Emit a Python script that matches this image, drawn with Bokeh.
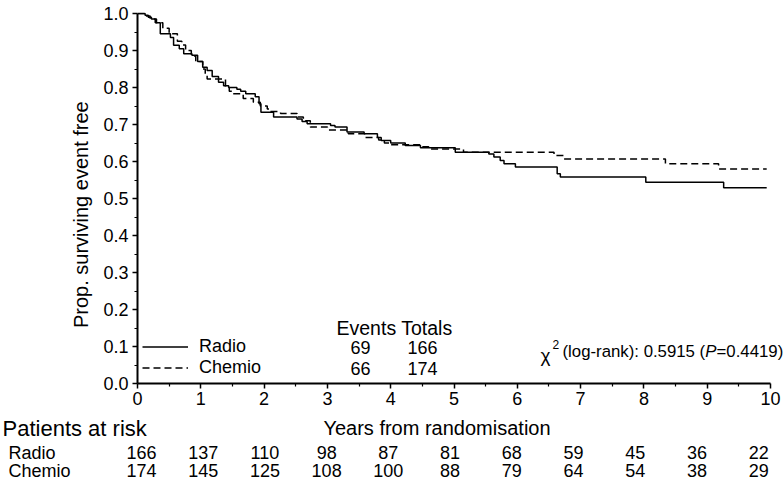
from bokeh.plotting import figure
from bokeh.layouts import column
from bokeh.models import (Range1d, Label, LabelSet, ColumnDataSource, Legend,
                          LegendItem, FixedTicker, PrintfTickFormatter)
from bokeh.core.properties import value
from bokeh.embed import file_html
from bokeh.resources import INLINE

FONT = "Liberation Sans"

# ---- data ----
radio_t = [0.00, 0.12, 0.17, 0.22, 0.28, 0.36, 0.52, 0.57, 0.66, 0.73, 0.86, 0.95,
           1.03, 1.10, 1.18, 1.28, 1.36, 1.44, 1.57, 1.63, 1.71, 1.86, 1.92, 1.95,
           2.15, 2.52, 2.60, 2.68, 3.05, 3.12, 3.31, 3.58, 3.79, 3.85, 4.00, 4.23,
           4.47, 5.02, 5.55, 5.63, 5.73, 5.79, 5.97, 6.63, 6.68, 8.03, 9.26, 9.94]
radio_s = [1.000, 0.995, 0.990, 0.985, 0.975, 0.945, 0.935, 0.914, 0.905, 0.891, 0.887, 0.870,
           0.855, 0.846, 0.830, 0.814, 0.805, 0.800, 0.795, 0.790, 0.783, 0.775, 0.756, 0.733,
           0.720, 0.715, 0.708, 0.702, 0.697, 0.693, 0.680, 0.675, 0.665, 0.657, 0.650, 0.643,
           0.637, 0.625, 0.620, 0.612, 0.603, 0.594, 0.585, 0.567, 0.558, 0.544, 0.529, 0.529]

chemio_t = [0.00, 0.12, 0.20, 0.30, 0.40, 0.50, 0.63, 0.70, 0.76, 0.85,
            0.92, 1.03, 1.07, 1.10, 1.39, 1.45, 1.50, 1.67, 1.83, 1.94,
            2.05, 2.10, 2.26, 2.52, 2.62, 2.73, 3.00, 3.33, 3.60, 3.81,
            3.90, 4.00, 4.47, 4.60, 5.15, 6.58, 6.73, 8.34, 9.18, 9.94]
chemio_s = [1.000, 0.993, 0.985, 0.975, 0.960, 0.945, 0.925, 0.915, 0.900, 0.885,
            0.870, 0.850, 0.835, 0.823, 0.800, 0.790, 0.783, 0.770, 0.760, 0.750,
            0.742, 0.735, 0.730, 0.720, 0.710, 0.693, 0.685, 0.675, 0.665, 0.658,
            0.650, 0.645, 0.640, 0.634, 0.625, 0.616, 0.607, 0.594, 0.580, 0.580]

groups = ["Radio", "Chemio"]
events = [69, 66]
totals = [166, 174]

chi2_value = 0.5915
p_value = 0.4419

x_ticks = [0, 1, 2, 3, 4, 5, 6, 7, 8, 9, 10]
y_ticks = [0.0, 0.1, 0.2, 0.3, 0.4, 0.5, 0.6, 0.7, 0.8, 0.9, 1.0]

risk_years = [0, 1, 2, 3, 4, 5, 6, 7, 8, 9, 10]
radio_risk = [166, 137, 110, 98, 87, 81, 68, 59, 45, 36, 22]
chemio_risk = [174, 145, 125, 108, 100, 88, 79, 64, 54, 38, 29]

# ---- layout constants (pixels) ----
W = 783
H_MAIN, H_TABLE = 415, 68
LEFT, TOP, BOTTOM = 137, 12, 32
FRAME_BOTTOM = H_MAIN - BOTTOM          # y = 0 row
PX_PER_Y = 370.0
PX_PER_X = 63.3
y_top = 1.0 + 1.0 / PX_PER_Y
x_end = (W - LEFT) / PX_PER_X

p = figure(width=W, height=H_MAIN, output_backend="svg", toolbar_location=None,
           x_range=Range1d(0, x_end), y_range=Range1d(0, y_top),
           min_border_left=LEFT, min_border_right=0,
           min_border_top=TOP, min_border_bottom=BOTTOM)
p.outline_line_color = None
p.xgrid.visible = False
p.ygrid.visible = False
p.background_fill_color = "white"
p.border_fill_color = "white"

r_radio = p.step(radio_t, radio_s, mode="after", line_color="black", line_width=1.5)
r_chemio = p.step(chemio_t, chemio_s, mode="after", line_color="black", line_width=1.5,
                  line_dash="7 4")

for ax in (p.xaxis[0], p.yaxis[0]):
    ax.axis_line_width = 2
    ax.axis_line_color = "black"
    ax.major_tick_line_color = "black"
    ax.minor_tick_line_color = "black"
    ax.major_tick_line_width = 1.5
    ax.minor_tick_line_width = 1.2
    ax.major_tick_in = 0
    ax.major_tick_out = 5
    ax.minor_tick_in = 0
    ax.minor_tick_out = 3
    ax.major_label_text_font = FONT
    ax.major_label_text_font_size = "18px"
    ax.major_label_text_color = "black"
    ax.axis_label_text_font = FONT
    ax.axis_label_text_font_style = "normal"
    ax.axis_label_text_color = "black"

p.xaxis[0].ticker = FixedTicker(ticks=x_ticks,
                                minor_ticks=[t + 0.5 for t in x_ticks[:-1]])
p.yaxis[0].ticker = FixedTicker(ticks=y_ticks,
                                minor_ticks=[round(t + 0.05, 2) for t in y_ticks[:-1]])
p.yaxis[0].bounds = (0, 1)
p.xaxis[0].bounds = (0, 10)
p.yaxis[0].formatter = PrintfTickFormatter(format="%.1f")
p.xaxis[0].major_label_standoff = 3
p.yaxis[0].major_label_standoff = 4

# label sits a little below the frame centre in the reference
p.yaxis[0].axis_label = "Prop. surviving event free" + "\u00a0" * 6
p.yaxis[0].axis_label_text_font_size = "20px"
p.yaxis[0].axis_label_standoff = 8

# ---- legend ----
legend = Legend(items=[LegendItem(label=groups[0], renderers=[r_radio]),
                       LegendItem(label=groups[1], renderers=[r_chemio])],
                location=(5, 5), padding=0, margin=0, spacing=0,
                glyph_width=46, glyph_height=21, label_height=21, label_standoff=11,
                label_text_font=FONT, label_text_font_size="18px",
                label_text_color="black",
                border_line_color=None, background_fill_alpha=0)
p.add_layout(legend)

def py(px):
    # reference pixel row -> data y of the main plot
    return (FRAME_BOTTOM - px) / PX_PER_Y

def px_x(px):
    return (px - LEFT) / PX_PER_X

tbl = ColumnDataSource(dict(ev_x=[px_x(360)] * 2, tot_x=[px_x(422)] * 2,
                            y=[py(347), py(368)],
                            ev=[str(e) for e in events], tot=[str(t) for t in totals]))
set_style = dict(text_font=value(FONT), text_font_size="18px", text_color="black",
                 text_align="center", text_baseline="middle")
p.add_layout(LabelSet(x="ev_x", y="y", text="ev", source=tbl, **set_style))
p.add_layout(LabelSet(x="tot_x", y="y", text="tot", source=tbl, **set_style))
p.add_layout(Label(x=px_x(394), y=py(327), text="Events Totals", text_font=FONT,
                   text_font_size="19.5px", text_color="black",
                   text_align="center", text_baseline="middle"))

# chi-square statistic
cx = px_x(540)
lab = dict(text_font=FONT, text_color="black", text_align="left",
           text_baseline="middle")
fs = 16.8
w1 = 8.503 * fs
p.add_layout(Label(x=cx, y=py(355), text="\u03c7", text_font_size="19px", **lab))
p.add_layout(Label(x=cx, y=py(344), x_offset=12, text="2", text_font_size="12px", **lab))
p.add_layout(Label(x=cx, y=py(351), x_offset=22,
                   text="(log-rank): %.4f (" % chi2_value, text_font_size="%.1fpx" % fs, **lab))
p.add_layout(Label(x=cx, y=py(351), x_offset=22 + w1, text="P",
                   text_font_size="%.1fpx" % fs, text_font_style="italic", **lab))
p.add_layout(Label(x=cx, y=py(351), x_offset=22 + w1 + 0.667 * fs,
                   text="=%.4f)" % p_value, text_font_size="%.1fpx" % fs, **lab))

# ---- patients at risk table (second figure sharing the year scale) ----
q = figure(width=W, height=H_TABLE, output_backend="svg", toolbar_location=None,
           x_range=Range1d(-LEFT / PX_PER_X, x_end), y_range=Range1d(H_TABLE, 0),
           x_axis_type=None, y_axis_type=None,
           min_border_left=0, min_border_right=0, min_border_top=0, min_border_bottom=0)
q.outline_line_color = None
q.background_fill_color = "white"
q.border_fill_color = "white"
# keep the table's frame spanning its full width (no alignment with the plot above)
if "frame_align" in q.properties():
    q.frame_align = False
    p.frame_align = False

def qy(px):
    # reference pixel row -> data y of the table figure (pixels from its top)
    return px - H_MAIN

risk_x = [0.063 + 0.975 * yr for yr in risk_years]
risk_src = ColumnDataSource(dict(x=risk_x, yr=[qy(452)] * 11, yc=[qy(470)] * 11,
                                 r=[str(v) for v in radio_risk],
                                 c=[str(v) for v in chemio_risk]))
q.add_layout(LabelSet(x="x", y="yr", text="r", source=risk_src, **set_style))
q.add_layout(LabelSet(x="x", y="yc", text="c", source=risk_src, **set_style))
left_lab = dict(text_font=FONT, text_color="black",
                text_align="left", text_baseline="middle")
q.add_layout(Label(x=0, x_offset=-LEFT + 2, y=qy(428), text="Patients at risk",
                   text_font_size="22px", **left_lab))
q.add_layout(Label(x=0, x_offset=-LEFT + 8, y=qy(452), text=groups[0],
                   text_font_size="18px", **left_lab))
q.add_layout(Label(x=0, x_offset=-LEFT + 8, y=qy(470), text=groups[1],
                   text_font_size="18px", **left_lab))
q.add_layout(Label(x=px_x(436.5), y=qy(427), text="Years from randomisation",
                   text_font=FONT, text_font_size="20px", text_color="black",
                   text_align="center", text_baseline="middle"))

open("out.html", "w").write(file_html(column(p, q), INLINE))
